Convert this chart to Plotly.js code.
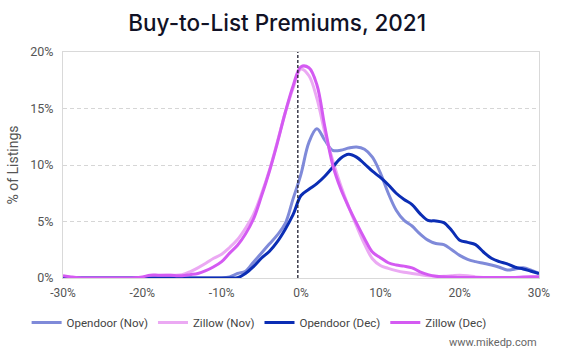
<!DOCTYPE html>
<html>
<head>
<meta charset="utf-8">
<script src="https://cdn.plot.ly/plotly-3.0.1.min.js"></script>
<style>html,body{margin:0;padding:0;background:#fff;}#chart{width:573px;height:354px;}</style>
</head>
<body>
<div id="chart"></div>
<script>
// Buy-to-list premium bins (%)
const premiums = [-30,-29,-28,-27,-26,-25,-24,-23,-22,-21,-20,-19,-18,-17,-16,-15,-14,-13,-12,-11,-10,-9,-8,-7,-6,-5,-4,-3,-2,-1,0,1,2,3,4,5,6,7,8,9,10,11,12,13,14,15,16,17,18,19,20,21,22,23,24,25,26,27,28,29,30];

const opendoorNov = [0,0,0,0,0,0,0,0,0,0,0,0,0,0,0,0,0,0,0,0,0,0.1,0.4,0.6,1.4,2.2,3.0,3.8,4.8,7.0,9.2,12.0,13.2,12.2,11.3,11.3,11.5,11.6,11.4,10.7,9.3,7.5,6.0,5.1,4.6,3.9,3.35,3.05,2.95,2.5,2.0,1.65,1.45,1.3,1.15,0.95,0.7,0.8,0.9,0.7,0.4];

const zillowNov = [0.15,0.05,0,0,0,0,0,0,0,0,0.05,0.15,0.2,0.25,0.25,0.3,0.55,0.9,1.3,1.75,2.1,2.7,3.4,4.4,5.6,7.4,9.5,12.0,14.6,16.8,18.5,17.9,15.9,12.9,10.4,8.2,6.3,4.6,3.0,1.7,1.1,0.85,0.65,0.5,0.4,0.3,0.2,0.15,0.15,0.2,0.25,0.2,0.1,0.05,0.05,0.05,0.05,0.05,0.05,0.05,0.05];

const opendoorDec = [0,0,0,0,0,0,0,0,0,0,0,0,0,0,0,0,0,0,0,0,0,0,0.02,0.4,1.0,1.75,2.35,3.2,4.3,5.6,7.3,7.85,8.35,9.0,9.8,10.6,10.95,10.7,10.1,9.45,8.9,8.25,7.5,6.95,6.5,5.7,5.1,5.05,4.9,4.2,3.35,3.15,2.95,2.3,1.75,1.45,1.25,0.95,0.8,0.6,0.4];

const zillowDec = [0.2,0.1,0.02,0,0,0,0,0,0,0.02,0.1,0.25,0.25,0.25,0.22,0.2,0.3,0.4,0.65,1.0,1.45,2.2,2.9,3.9,5.2,7.2,9.4,11.9,14.6,17.0,18.7,18.6,17.1,13.4,10.0,7.9,6.3,4.85,3.5,2.3,1.8,1.35,1.15,1.05,0.9,0.55,0.3,0.15,0.1,0.08,0.05,0.05,0.05,0.05,0.05,0.05,0.05,0.05,0.08,0.1,0.1];

const seriesNames = ["Opendoor (Nov)", "Zillow (Nov)", "Opendoor (Dec)", "Zillow (Dec)"];
const seriesColors = ["#7f8ad9", "#eba9f3", "#0b2db4", "#d45af2"];
const seriesValues = [opendoorNov, zillowNov, opendoorDec, zillowDec];

const xTicks = [-30,-20,-10,0,10,20,30];
const xTickText = ["-30%","-20%","-10%","0%","10%","20%","30%"];
const yTicks = [0,5,10,15,20];
const yTickText = ["0%","5%","10%","15%","20%"];
const zeroMarker = -0.4;

const traces = seriesValues.map((vals, i) => ({
  type: "scatter",
  mode: "lines",
  name: seriesNames[i],
  x: premiums,
  y: vals,
  line: {color: seriesColors[i], width: 3, shape: "spline", smoothing: 1},
  hoverinfo: "skip"
}));

const font = "Roboto, 'Liberation Sans', Arial, sans-serif";

const layout = {
  width: 573, height: 354,
  margin: {l: 63, r: 34, t: 52, b: 76, autoexpand: false},
  paper_bgcolor: "#fff", plot_bgcolor: "#fff",
  showlegend: true,
  title: {
    text: "Buy-to-List Premiums, 2021",
    font: {family: "Inter, 'Noto Sans', sans-serif", size: 22.5, color: "#111226", weight: 500},
    x: 0.45, xanchor: "center", y: 0.935, yanchor: "middle", xref: "paper"
  },
  xaxis: {
    range: [-30, 30], tickvals: xTicks, ticktext: xTickText,
    showgrid: false, zeroline: false,
    showline: true, linecolor: "#d9d9d9", linewidth: 1, mirror: true,
    ticks: "", tickfont: {family: font, size: 12, color: "#555"},
    ticklabelstandoff: 4, fixedrange: true
  },
  yaxis: {
    range: [0, 20], tickvals: yTicks, ticktext: yTickText,
    showgrid: true, gridcolor: "#d6d6d6", griddash: "4px,3px", gridwidth: 1,
    zeroline: false,
    showline: true, linecolor: "#d9d9d9", linewidth: 1, mirror: true,
    ticks: "", tickfont: {family: font, size: 12.5, color: "#555"},
    ticklabelstandoff: 6,
    title: {text: "% of Listings", font: {family: font, size: 14, color: "#555"}, standoff: 8},
    fixedrange: true
  },
  legend: {
    orientation: "h", x: 0.412, xanchor: "center", y: -0.133, yanchor: "top",
    font: {family: font, size: 11.5, color: "#444"},
    itemwidth: 30, traceorder: "normal"
  },
  shapes: [{
    type: "line", xref: "x", yref: "paper",
    x0: zeroMarker, x1: zeroMarker, y0: 0, y1: 1,
    line: {color: "#1c1d2e", width: 1.3, dash: "3px,2px"}
  }],
  annotations: [{
    text: "www.mikedp.com", xref: "paper", yref: "paper",
    x: 1.0, y: -0.248, xanchor: "right", yanchor: "top", showarrow: false,
    font: {family: font, size: 11, color: "#666"}
  }]
};

Plotly.newPlot("chart", traces, layout, {displayModeBar: false, staticPlot: true});
</script>
</body>
</html>
